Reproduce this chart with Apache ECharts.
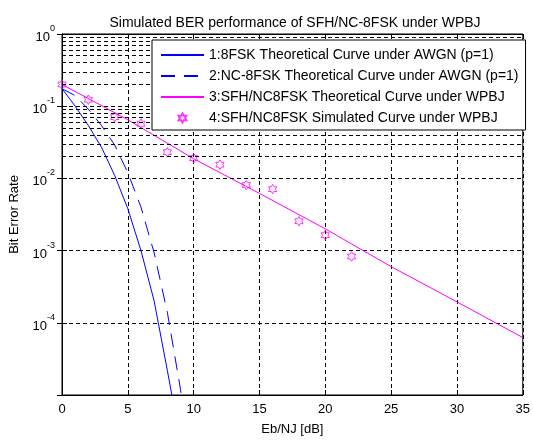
<!DOCTYPE html>
<html>
<head>
<meta charset="utf-8">
<script src="https://cdn.jsdelivr.net/npm/echarts@6/dist/echarts.min.js"></script>
<style>
  html, body { margin: 0; padding: 0; background: #fff; }
  #chart { width: 533px; height: 441px; }
</style>
</head>
<body>
<div id="chart"></div>
<script>
// Eb/NJ in dB and bit error rates for each curve
const snrCoherent = [0, 1, 2, 3, 4, 5, 6, 7, 8, 8.5];
const berCoherent = [0.175, 0.1, 0.054, 0.027, 0.011, 0.0038, 0.001, 2.0e-4, 2.2e-5, 7e-6];

const snrNoncoherent = [0, 1, 2, 3, 4, 5, 6, 7, 8, 9, 9.5];
const berNoncoherent = [0.175, 0.14, 0.091, 0.054, 0.029, 0.012, 0.004, 9.3e-4, 1.4e-4, 1.2e-5, 3e-6];

const snrWpbjTheory = [0, 5, 10, 15, 20, 25, 30, 35];
const berWpbjTheory = [0.20, 0.065, 0.0187, 0.0062, 0.0020, 6.0e-4, 1.95e-4, 6.25e-5];

const snrWpbjSim = [0, 2, 4, 6, 8, 10, 12, 14, 16, 18, 20, 22];
const berWpbjSim = [0.2, 0.123, 0.0706, 0.0573, 0.0231, 0.0191, 0.0155, 0.0081, 0.0071, 0.00255, 0.00164, 0.00083];

const seriesNames = [
  '1:8FSK Theoretical Curve under AWGN (p=1)',
  '2:NC-8FSK Theoretical Curve under AWGN (p=1)',
  '3:SFH/NC8FSK Theoretical Curve under WPBJ',
  '4:SFH/NC8FSK Simulated Curve under WPBJ'
];

const xTicks = [0, 5, 10, 15, 20, 25, 30, 35];
const yDecades = [-5, -4, -3, -2, -1, 0];

const FONT = '"Liberation Sans", Arial, sans-serif';
const BLUE = '#0000ff';
const MAGENTA = '#ff00ff';

// minor log grid lines at 2..9 x 10^k
const minorGrid = [];
for (let k = yDecades[0]; k < yDecades[yDecades.length - 1]; k++) {
  for (let m = 2; m <= 9; m++) minorGrid.push(m * Math.pow(10, k));
}

const pairs = (xs, ys) => xs.map((x, i) => [x, ys[i]]);

// six-pointed star outline
const HEXAGRAM = 'path://M10 0L12.89 5L18.66 5L15.77 10L18.66 15L12.89 15L10 20L7.11 15L1.34 15L4.23 10L1.34 5L7.11 5Z';

const gridDash = { color: '#000', width: 1, type: [4, 3] };

const chart = echarts.init(document.getElementById('chart'), null, { renderer: 'canvas' });
chart.setOption({
  animation: false,
  backgroundColor: '#fff',
  title: {
    text: 'Simulated BER performance of SFH/NC-8FSK under WPBJ',
    left: 290, top: 11, textAlign: 'center',
    textStyle: { fontFamily: FONT, fontSize: 14, fontWeight: 'normal', color: '#000' }
  },
  grid: { left: 58, right: 7, top: 34, bottom: 39, show: true, borderColor: '#000', borderWidth: 1, backgroundColor: 'transparent' },
  legend: {
    z: 20,
    data: [
      { name: seriesNames[0], itemStyle: { opacity: 0 } },
      { name: seriesNames[1], itemStyle: { opacity: 0 } },
      { name: seriesNames[2], itemStyle: { opacity: 0 } },
      { name: seriesNames[3] }
    ],
    orient: 'vertical',
    left: 152, top: 40,
    padding: [8, 7, 5, 8],
    itemGap: 7,
    itemWidth: 43, itemHeight: 9,
    backgroundColor: '#fff', borderColor: '#000', borderWidth: 1, borderRadius: 0,
    textStyle: { fontFamily: FONT, fontSize: 14, color: '#000' }
  },
  xAxis: [{
    type: 'value', min: xTicks[0], max: xTicks[xTicks.length - 1], interval: 5,
    name: 'Eb/NJ [dB]', nameLocation: 'middle', nameGap: 28,
    nameTextStyle: { fontFamily: FONT, fontSize: 13, color: '#000' },
    axisLine: { show: true, lineStyle: { color: '#000' } },
    axisTick: { show: true, inside: true, length: 5, lineStyle: { color: '#000' } },
    axisLabel: { fontFamily: FONT, fontSize: 13, color: '#000', margin: 8 },
    splitLine: { show: true, lineStyle: gridDash }
  }, {
    type: 'value', position: 'top', min: xTicks[0], max: xTicks[xTicks.length - 1], interval: 5,
    axisLine: { show: true, lineStyle: { color: '#000' } },
    axisTick: { show: true, inside: true, length: 5, lineStyle: { color: '#000' } },
    axisLabel: { show: false }, splitLine: { show: false }
  }],
  yAxis: [{
    type: 'log', logBase: 10, min: Math.pow(10, yDecades[0]), max: Math.pow(10, yDecades[yDecades.length - 1]),
    name: 'Bit Error Rate', nameLocation: 'middle', nameGap: 41,
    nameTextStyle: { fontFamily: FONT, fontSize: 13, color: '#000' },
    axisLine: { show: true, lineStyle: { color: '#000' } },
    axisTick: { show: true, inside: true, length: 5, lineStyle: { color: '#000' } },
    axisLabel: {
      margin: 7,
      formatter: v => {
        const e = Math.round(Math.log10(v));
        if (e <= yDecades[0]) return '';
        return '{b|10}{s|' + e + '}';
      },
      rich: {
        b: { fontFamily: FONT, fontSize: 13, color: '#000', lineHeight: 20, verticalAlign: 'bottom' },
        s: { fontFamily: FONT, fontSize: 9, color: '#000', lineHeight: 10, verticalAlign: 'top' }
      }
    },
    splitLine: { show: true, lineStyle: gridDash }
  }, {
    type: 'log', logBase: 10, position: 'right', min: Math.pow(10, yDecades[0]), max: Math.pow(10, yDecades[yDecades.length - 1]),
    axisLine: { show: true, lineStyle: { color: '#000' } },
    axisTick: { show: true, inside: true, length: 5, lineStyle: { color: '#000' } },
    axisLabel: { show: false }, splitLine: { show: false }
  }],
  series: [
    {
      name: 'minor-grid', type: 'line', data: [], silent: true, z: 0,
      markLine: {
        silent: true, symbol: ['none', 'none'], label: { show: false },
        lineStyle: gridDash, emphasis: { disabled: true },
        data: minorGrid.map(v => ({ yAxis: v }))
      }
    },
    {
      name: seriesNames[0], type: 'line', data: pairs(snrCoherent, berCoherent),
      symbol: 'none', clip: true, smooth: false,
      lineStyle: { color: BLUE, width: 1 }, itemStyle: { color: BLUE }
    },
    {
      name: seriesNames[1], type: 'line', data: pairs(snrNoncoherent, berNoncoherent),
      symbol: 'none', clip: true,
      lineStyle: { color: BLUE, width: 1, type: [14, 9] }, itemStyle: { color: BLUE }
    },
    {
      name: seriesNames[2], type: 'line', data: pairs(snrWpbjTheory, berWpbjTheory),
      symbol: 'none', clip: true,
      lineStyle: { color: MAGENTA, width: 1 }, itemStyle: { color: MAGENTA }
    },
    {
      name: seriesNames[3], type: 'scatter', data: pairs(snrWpbjSim, berWpbjSim),
      symbol: HEXAGRAM, symbolSize: 9.5, symbolKeepAspect: true,
      itemStyle: { color: 'rgba(255,255,255,0)', borderColor: MAGENTA, borderWidth: 1 }
    }
  ]
});
</script>
</body>
</html>
